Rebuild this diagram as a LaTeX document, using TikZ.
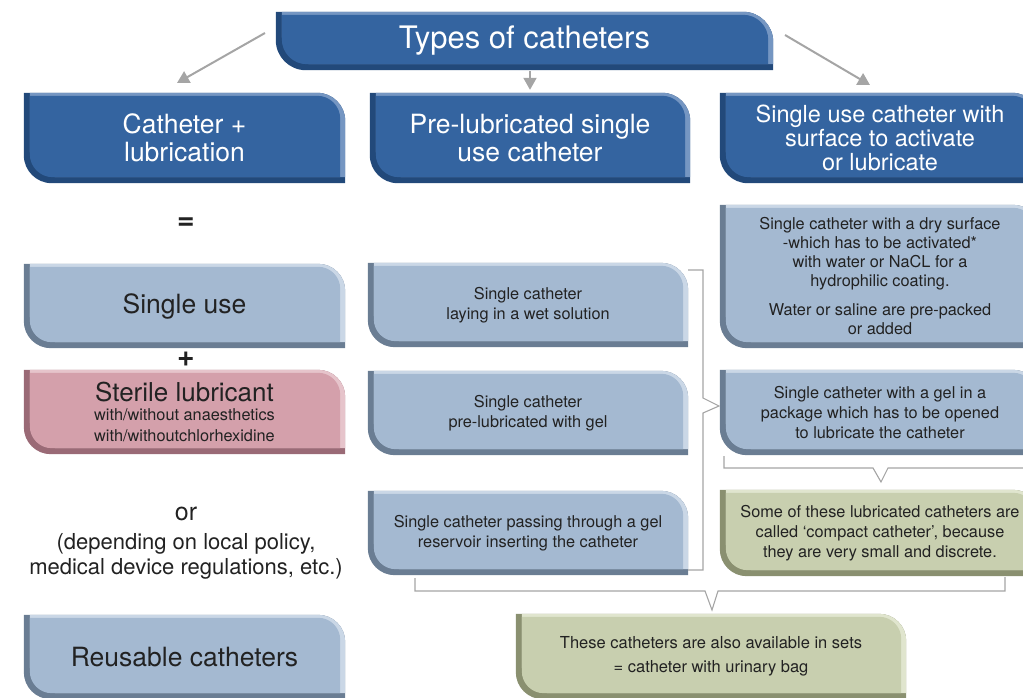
\documentclass[tikz,border=0pt]{standalone}
\usepackage{fontspec}
\setmainfont{TeX Gyre Heros}
\usetikzlibrary{arrows.meta,backgrounds}
\definecolor{dbF}{HTML}{3464A0}
\definecolor{dbD}{HTML}{22497A}
\definecolor{dbL}{HTML}{7596C2}
\definecolor{lbF}{HTML}{A4B9D1}
\definecolor{lbD}{HTML}{6A7D93}
\definecolor{lbL}{HTML}{CAD7E6}
\definecolor{pkF}{HTML}{D4A0AB}
\definecolor{pkD}{HTML}{9A6A76}
\definecolor{pkL}{HTML}{E6C4CB}
\definecolor{gnF}{HTML}{C8CFAF}
\definecolor{gnD}{HTML}{8A9070}
\definecolor{gnL}{HTML}{E0E5CE}
\definecolor{txt}{HTML}{222222}
\definecolor{lin}{HTML}{A5A5A5}
% path of a box with two rounded corners: node, left, bottom, right, top inset, radius
\newcommand\bshp[6]{([shift={(#2,-#5)}]#1.north west) -- ([shift={(-#4-#6,-#5)}]#1.north east) arc[start angle=90,end angle=0,radius=#6] -- ([shift={(-#4,#3)}]#1.south east) -- ([shift={(#2+#6,#3)}]#1.south west) arc[start angle=270,end angle=180,radius=#6] -- cycle}
\newcommand\bevel[5]{%
  \pgfmathsetmacro\bevir{#5-5}%
  \fill[#2] \bshp{#1}{0}{0}{0}{0}{#5};
  \fill[#3] \bshp{#1}{6}{6}{0}{0}{#5};
  \fill[#4] \bshp{#1}{6}{6}{5}{3}{\bevir};
}
\tikzset{
  bx/.style 2 args={minimum width=#1, minimum height=#2, inner sep=0pt, align=center},
  big/.style={font=\fontsize{26.5}{28}\selectfont},
  small/.style={font=\fontsize{16.3}{20.5}\selectfont, text=txt},
  arr/.style={draw=lin, line width=2pt, -{Triangle[length=12pt,width=13pt]}},
  brk/.style={draw=lin, line width=1.1pt},
  plain/.style={text=txt, inner sep=0pt, align=center}
}
\begin{document}
\begin{tikzpicture}[x=1pt,y=1pt]
\clip (0,0) rectangle (1023,697);
% header
\node[bx={497pt}{58pt}, text=white, font=\fontsize{31}{33}\selectfont] (top) at (524.5,656) {Types of catheters};
% first row
\node[bx={321pt}{90pt}, big, text=white] (c1) at (184.5,559) {Catheter +\\lubrication};
\node[bx={320pt}{90pt}, big, text=white] (c2) at (530,559) {Pre-lubricated single\\use catheter};
\node[bx={320pt}{90pt}, text=white, font=\fontsize{23.5}{24}\selectfont] (c3) at (880,559) {Single use catheter with\\surface to activate\\or lubricate};
% left column
\node[plain, font=\bfseries\fontsize{30}{30}\selectfont] (eq) at (186,473) {=};
\node[bx={321pt}{84pt}, big, text=txt] (su) at (184.5,391) {Single use};
\node[plain, font=\bfseries\fontsize{30}{30}\selectfont] (plus) at (186,338) {+};
\node[bx={321pt}{84pt}, text=txt, font=\fontsize{16.3}{21}\selectfont] (st) at (184.5,285) {{\fontsize{26}{26}\selectfont Sterile lubricant}\\[-2pt]with/without anaesthetics\\with/withoutchlorhexidine};
\node[plain, font=\fontsize{25}{25}\selectfont] (or) at (186,183) {or};
\node[plain, font=\fontsize{22}{25}\selectfont] (dep) at (186,140.5) {(depending on local policy,\\medical device regulations, etc.)};
\node[bx={321pt}{84pt}, big, text=txt] (ru) at (184.5,40) {Reusable catheters};
% middle column
\node[bx={320pt}{84pt}, small] (m1) at (528,392) {Single catheter\\laying in a wet solution};
\node[bx={320pt}{84pt}, small] (m2) at (528,284) {Single catheter\\pre-lubricated with gel};
\node[bx={320pt}{84pt}, small] (m3) at (528,164) {Single catheter passing through a gel\\reservoir inserting the catheter};
% right column
\node[bx={320pt}{143pt}, small, font=\fontsize{16.3}{19}\selectfont] (r1) at (880,420.5) {Single catheter with a dry surface\\-which has to be activated*\\with water or NaCL for a\\hydrophilic coating.\\[10pt]Water or saline are pre-packed\\or added};
\node[bx={320pt}{85pt}, small, font=\fontsize{16.3}{20}\selectfont] (r2) at (880,284.5) {Single catheter with a gel in a\\package which has to be opened\\to lubricate the catheter};
\node[bx={320pt}{86pt}, small, font=\fontsize{16.3}{20}\selectfont] (r3) at (880,164) {Some of these lubricated catheters are\\called ‘compact catheter’, because\\they are very small and discrete.};
\node[bx={390pt}{85pt}, small, font=\fontsize{16.5}{24}\selectfont] (bt) at (711,40.5) {These catheters are also available in sets\\= catheter with urinary bag};
% box shapes
\begin{pgfonlayer}{background}
\clip (0,0) rectangle (1023,697);
\bevel{top}{dbD}{dbL}{dbF}{30}
\bevel{c1}{dbD}{dbL}{dbF}{28}
\bevel{c2}{dbD}{dbL}{dbF}{28}
\bevel{c3}{dbD}{dbL}{dbF}{28}
\bevel{su}{lbD}{lbL}{lbF}{27}
\bevel{st}{pkD}{pkL}{pkF}{27}
\bevel{ru}{lbD}{lbL}{lbF}{27}
\bevel{m1}{lbD}{lbL}{lbF}{27}
\bevel{m2}{lbD}{lbL}{lbF}{27}
\bevel{m3}{lbD}{lbL}{lbF}{27}
\bevel{r1}{lbD}{lbL}{lbF}{27}
\bevel{r2}{lbD}{lbL}{lbF}{27}
\bevel{r3}{gnD}{gnL}{gnF}{27}
\bevel{bt}{gnD}{gnL}{gnF}{27}
\end{pgfonlayer}
% arrows
\coordinate (aL0) at (265,664);
\coordinate (aL1) at (177,614);
\coordinate (aR0) at (785,662);
\coordinate (aR1) at (870,612);
\draw[arr] (aL0) -- (aL1);
\draw[arr, shorten <=1pt, shorten >=3pt] ([xshift=5.5pt]top.south) -- (c2.north);
\draw[arr] (aR0) -- (aR1);
% brackets
\coordinate (b1a) at (688,427);
\coordinate (b1b) at (703,427);
\coordinate (b1c) at (703,299);
\coordinate (b1t) at (719,291);
\coordinate (b1d) at (703,284);
\coordinate (b1e) at (703,127);
\coordinate (b1f) at (688,127);
\draw[brk] (b1a) -- (b1b) -- (b1c) -- (b1t) -- (b1d) -- (b1e) -- (b1f);
\coordinate (b2a) at (724,241);
\coordinate (b2b) at (724,229);
\coordinate (b2c) at (873,229);
\coordinate (b2t) at (881,215);
\coordinate (b2d) at (888,229);
\coordinate (b2e) at (1030,229);
\draw[brk] (b2a) -- (b2b) -- (b2c) -- (b2t) -- (b2d) -- (b2e);
\coordinate (b3a) at (415,119);
\coordinate (b3b) at (415,106);
\coordinate (b3c) at (705,106);
\coordinate (b3t) at (712,87);
\coordinate (b3d) at (718,106);
\coordinate (b3e) at (1005,106);
\coordinate (b3f) at (1005,120);
\draw[brk] (b3a) -- (b3b) -- (b3c) -- (b3t) -- (b3d) -- (b3e) -- (b3f);
\end{tikzpicture}
\end{document}
